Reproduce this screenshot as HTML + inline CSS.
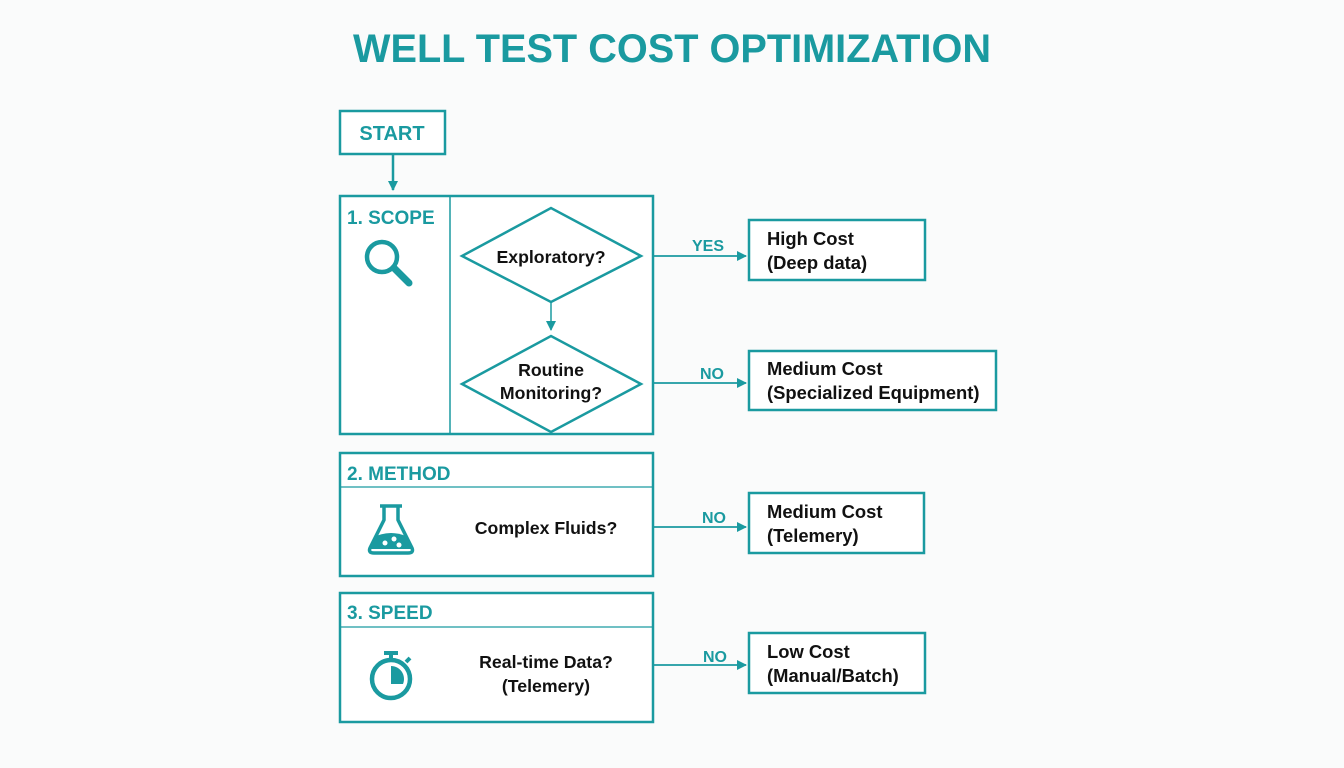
<!DOCTYPE html>
<html><head><meta charset="utf-8"><style>
html,body{margin:0;padding:0;background:#fafbfb;}
svg{display:block;}
text{font-family:"Liberation Sans",sans-serif;font-weight:bold;}
.t{fill:#1a9aa0;}
.k{fill:#111;font-size:17.7px;}
.b{fill:#111;font-size:18.4px;}
</style></head><body>
<svg width="1344" height="768" viewBox="0 0 1344 768">
<defs><marker id="a" markerWidth="10" markerHeight="10" refX="9" refY="5" orient="auto" markerUnits="userSpaceOnUse"><path d="M0,0 L10,5 L0,10 z" fill="#1a9aa0"/></marker></defs>
<g fill="none" stroke="#1a9aa0" stroke-width="2.5">
<rect x="340" y="111" width="105" height="43" fill="#fff"/>
<line x1="393" y1="154" x2="393" y2="190" marker-end="url(#a)"/>
<rect x="340" y="196" width="313" height="238" fill="#fff"/>
<line x1="450" y1="196" x2="450" y2="434" stroke-width="1.5"/>
<polygon points="462,256 551,208 641,256 551,302"/>
<line x1="551" y1="302" x2="551" y2="330" marker-end="url(#a)" stroke-width="1.5"/>
<polygon points="462,384 551,336 641,384 551,432"/>
<line x1="653" y1="256" x2="746" y2="256" marker-end="url(#a)" stroke-width="1.8"/>
<line x1="653" y1="383" x2="746" y2="383" marker-end="url(#a)" stroke-width="1.8"/>
<rect x="749" y="220" width="176" height="60" fill="#fff"/>
<rect x="749" y="351" width="247" height="59" fill="#fff"/>
<rect x="340" y="453" width="313" height="123" fill="#fff"/>
<line x1="340" y1="487" x2="653" y2="487" stroke-width="1.2"/>
<line x1="653" y1="527" x2="746" y2="527" marker-end="url(#a)" stroke-width="1.8"/>
<rect x="749" y="493" width="175" height="60" fill="#fff"/>
<rect x="340" y="593" width="313" height="129" fill="#fff"/>
<line x1="340" y1="627" x2="653" y2="627" stroke-width="1.2"/>
<line x1="653" y1="665" x2="746" y2="665" marker-end="url(#a)" stroke-width="1.8"/>
<rect x="749" y="633" width="176" height="60" fill="#fff"/>
<circle cx="382" cy="257" r="15" stroke-width="4.5"/>
<line x1="394" y1="268" x2="409" y2="283" stroke-width="7" stroke-linecap="round"/>
<circle cx="391" cy="679" r="19" stroke-width="4.5"/>
<line x1="391" y1="655" x2="391" y2="660" stroke-width="4"/>
<line x1="384" y1="653" x2="398" y2="653" stroke-width="4"/>
<line x1="406" y1="662" x2="410" y2="658" stroke-width="4"/>
</g>
<path d="M391,666 A13,13 0 0 1 403,684 L391,684 z" fill="#1a9aa0"/>
<g fill="none" stroke="#1a9aa0" stroke-width="3.5" stroke-linejoin="round">
<line x1="380" y1="506" x2="402" y2="506"/>
<path d="M384,506 L384,520 L370,548 Q368,553 374,553 L408,553 Q414,553 412,548 L398,520 L398,506"/>
</g>
<path d="M376,536 Q391,530 406,536 L411,549 L371,549 z" fill="#1a9aa0"/>
<circle cx="385" cy="543" r="2.5" fill="#fff"/><circle cx="394" cy="539" r="2.5" fill="#fff"/><circle cx="399" cy="545" r="2.5" fill="#fff"/>
<text class="t" x="672" y="62" font-size="40" text-anchor="middle" textLength="638" lengthAdjust="spacingAndGlyphs">WELL TEST COST OPTIMIZATION</text>
<text class="t" x="392" y="140" font-size="20" text-anchor="middle">START</text>
<text class="t" x="347" y="224" font-size="19">1. SCOPE</text>
<text class="t" x="347" y="480" font-size="19">2. METHOD</text>
<text class="t" x="347" y="619" font-size="19">3. SPEED</text>
<text class="k" x="551" y="263" text-anchor="middle">Exploratory?</text>
<text class="k" x="551" y="376" text-anchor="middle">Routine</text>
<text class="k" x="551" y="399" text-anchor="middle">Monitoring?</text>
<text class="k" x="546" y="534" text-anchor="middle">Complex Fluids?</text>
<text class="k" x="546" y="668" text-anchor="middle">Real-time Data?</text>
<text class="k" x="546" y="692" text-anchor="middle">(Telemery)</text>
<text class="t" x="708" y="251" font-size="16" text-anchor="middle">YES</text>
<text class="t" x="712" y="379" font-size="16" text-anchor="middle">NO</text>
<text class="t" x="714" y="523" font-size="16" text-anchor="middle">NO</text>
<text class="t" x="715" y="662" font-size="16" text-anchor="middle">NO</text>
<text class="b" x="767" y="245">High Cost</text>
<text class="b" x="767" y="269">(Deep data)</text>
<text class="b" x="767" y="375">Medium Cost</text>
<text class="b" x="767" y="399">(Specialized Equipment)</text>
<text class="b" x="767" y="518">Medium Cost</text>
<text class="b" x="767" y="542">(Telemery)</text>
<text class="b" x="767" y="658">Low Cost</text>
<text class="b" x="767" y="682">(Manual/Batch)</text>
</svg>
</body></html>
